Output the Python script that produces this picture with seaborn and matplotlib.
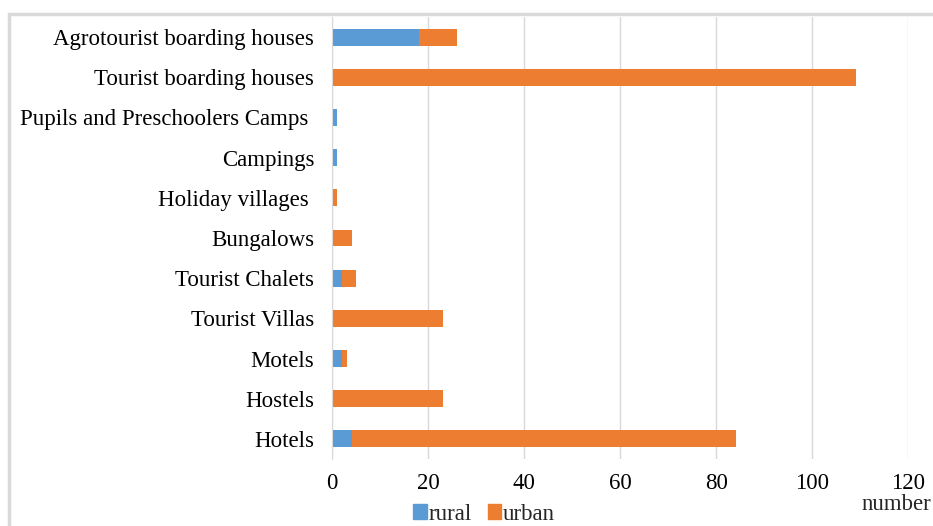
import matplotlib
matplotlib.use('Agg')
import matplotlib.pyplot as plt
import seaborn as sns
import pandas as pd
from matplotlib.patches import Rectangle, Patch

# 데이터
categories = ['Agrotourist boarding houses', 'Tourist boarding houses',
              'Pupils and Preschoolers Camps ', 'Campings', 'Holiday villages ',
              'Bungalows', 'Tourist Chalets', 'Tourist Villas', 'Motels',
              'Hostels', 'Hotels']
rural = [18, 0, 1, 1, 0, 0, 2, 0, 2, 0, 4]
urban = [8, 109, 0, 0, 1, 4, 3, 23, 1, 23, 80]
x_ticks = [0, 20, 40, 60, 80, 100, 120]

blue = '#5B9BD5'
orange = '#ED7D31'

df = pd.DataFrame({'type': categories, 'rural': rural, 'urban': urban})
df['total'] = df['rural'] + df['urban']

sns.set_style('white')
plt.rcParams['font.family'] = ['Liberation Serif', 'DejaVu Serif']
fs = 16.5

fig = plt.figure(figsize=(9.33, 5.26), dpi=100)
ax = fig.add_axes([332.3 / 933, 1 - 459 / 526, (908.3 - 332.3) / 933, (459 - 17) / 526])

# 바깥 테두리
fig.patches.append(Rectangle((9 / 933, -0.1), 1.5, 1 - 14 / 526 + 0.1,
                             transform=fig.transFigure, fill=False,
                             edgecolor='#D9D9D9', lw=2.5))

# 누적 막대: 전체(주황) 위에 rural(파랑)
sns.barplot(data=df, x='total', y='type', color=orange, width=0.42,
            saturation=1, ax=ax, orient='h', linewidth=0)
sns.barplot(data=df, x='rural', y='type', color=blue, width=0.42,
            saturation=1, ax=ax, orient='h', linewidth=0)

ax.set_xlim(0, 120)
ax.set_xticks(x_ticks)
ax.set_xlabel('')
ax.set_ylabel('')
ax.grid(axis='x', color='#D9D9D9', lw=1)
ax.set_axisbelow(True)
for s in ['top', 'right', 'bottom']:
    ax.spines[s].set_visible(False)
ax.spines['left'].set_color('#D9D9D9')
ax.tick_params(axis='y', length=0, pad=13, labelsize=fs, labelcolor='black')
ax.tick_params(axis='x', length=0, pad=10, labelsize=fs, labelcolor='black')

fig.text(931 / 933, 1 - 505 / 526, 'number', ha='right', va='center', fontsize=fs)

handles = [Patch(color=blue, label='rural'), Patch(color=orange, label='urban')]
fig.legend(handles=handles, loc='center', bbox_to_anchor=(484 / 933, 1 - 514 / 526),
           ncol=2, frameon=False, fontsize=fs, handlelength=0.6, handleheight=0.6,
           handletextpad=0.05, columnspacing=0.7)

plt.savefig('out.png', dpi=100)
